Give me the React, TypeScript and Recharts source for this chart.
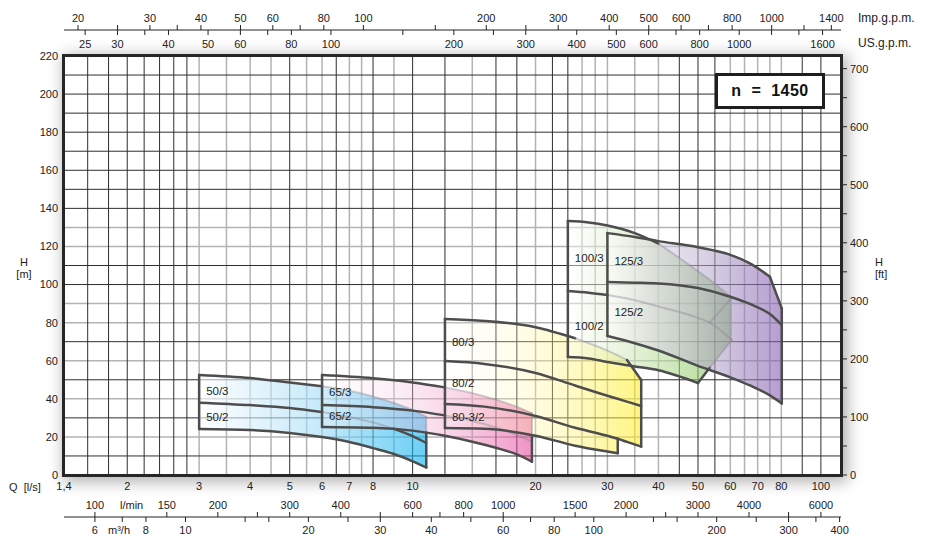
import React from 'react';
import {
  ComposedChart,
  Area,
  Line,
  XAxis,
  YAxis,
  CartesianGrid,
  ReferenceDot,
} from 'recharts';

const FONT = '"Liberation Sans", Arial, Helvetica, sans-serif';
const INK = '#222';
const EDGE = '#4d4d4d';

// flow axis in l/s (log), head axis in m
const Q_MIN = 1.4;
const Q_MAX = 112;
const H_MAX = 220;

// unit conversions from l/s and m
const IMP_GPM = 13.2;
const US_GPM = 15.85;
const L_MIN = 60;
const M3_H = 3.6;
const FT = 3.2808;

// axis ticks
const qTicks = [1.4, 2, 3, 4, 5, 6, 7, 8, 10, 20, 30, 40, 50, 60, 70, 80, 100];
const impTicks = [20, 25, 30, 35, 40, 50, 60, 70, 80, 100, 150, 200, 250, 300, 400, 500, 600, 700, 800, 1000, 1200, 1400];
const impLabels = [20, 30, 40, 50, 60, 80, 100, 200, 300, 400, 500, 600, 800, 1000, 1400];
const usTicks = [25, 30, 35, 40, 50, 60, 70, 80, 100, 150, 200, 250, 300, 400, 500, 600, 700, 800, 1000, 1200, 1400, 1600];
const usLabels = [25, 30, 40, 50, 60, 80, 100, 200, 300, 400, 500, 600, 800, 1000, 1600];
const lminTicks = [100, 150, 200, 250, 300, 400, 500, 600, 700, 800, 1000, 1500, 2000, 2500, 3000, 4000, 5000, 6000];
const lminLabels = [100, 150, 200, 300, 400, 600, 800, 1000, 1500, 2000, 3000, 4000, 6000];
const m3hTicks = [6, 7, 8, 10, 14, 16, 20, 25, 30, 40, 50, 60, 70, 80, 100, 140, 160, 200, 250, 300, 350, 400];
const m3hLabels = [6, 8, 10, 20, 30, 40, 60, 80, 100, 200, 300, 400];
const hTicks = [0, 20, 40, 60, 80, 100, 120, 140, 160, 180, 200, 220];
const ftTicks = [0, 50, 100, 150, 200, 250, 300, 350, 400, 450, 500, 550, 600, 650, 700];

// grid (the original mixes dark and pale lines)
const gridDarkH = [10, 30, 50, 70, 100, 110, 140, 150, 160, 170, 180, 190, 200, 210];
const gridLightH = [20, 40, 60, 80, 90, 120, 130];
const gridDarkV = [1.6, 1.8, 2, 2.2, 2.4, 2.6, 2.8, 5, 6.5, 8, 10, 12, 16, 18, 22, 24, 45, 50, 55, 90, 100];
const gridLightV = [3, 3.5, 4, 4.5, 5.5, 6, 7, 7.5, 9, 14, 20, 26, 28, 30, 35, 40, 60, 65, 70, 75, 80];

// 50 family
const q50 = [3, 4, 5, 6, 7, 8, 9, 10, 10.8];
const h50Top = [52.5, 50.9, 48.6, 46.6, 44.2, 41.2, 37.8, 34.2, 30.5];
const h50Mid = [38.0, 36.7, 35.2, 33.1, 30.5, 27.6, 24.2, 20.4, 16.8];
const h50Bot = [24.1, 23.6, 22.1, 19.9, 17.3, 14.1, 11.0, 7.2, 4.0];
const h50Cover = 22.3; // head where the 65 tile starts covering the 50 right edge

// 65 family
const q65 = [6, 8, 10, 12, 14, 16, 18, 19.6];
const h65Top = [52.5, 50.8, 48.6, 46.0, 43.0, 39.6, 35.8, 32.5];
const h65Mid = [36.7, 35.6, 33.8, 31.3, 28.4, 25.0, 21.0, 17.5];
const h65Bot = [25.2, 24.8, 23.3, 20.6, 17.5, 14.3, 10.8, 7.0];
const h65Cover = 20.5; // head where the 80 tile starts covering the 65 right edge

// 80 family (80-3/2 stops at 31.8 l/s)
const q80 = [12, 15, 20, 25, 30, 31.8, 33.5, 36.3];
const h80Top = [81.9, 80.9, 77.6, 71.8, 65.3, 62.8, 60.4, 49.9];
const h80Mid = [59.8, 58.3, 53.6, 47.0, 41.6, 40.0, 38.5, 36.2];
const h80Low = [37.3, 35.9, 31.0, 24.8, 20.6, 19.0, 17.4, 14.9];
const h80Bot = [24.7, 24.3, 20.6, 15.4, 12.3, 11.4];

// 100 family (lower outline runs up the slanted right edge after 50 l/s)
const q100 = [24, 27, 30, 35, 40, 50, 53.4, 60.5];
const h100Top = [133.3, 132.6, 131.0, 127.0, 121.5, 107.0, 102.5, 93.0];
const h100Mid = [96.6, 95.7, 94.5, 91.8, 88.5, 82.5, 80.0, 70.9];
const h100Low = [61.9, 61.2, 59.3, 57.0, 55.0, 48.3, 56.3, 70.9];

// 125 family
const q125 = [30, 35, 40, 50, 60, 67, 75, 80.2];
const h125Top = [127.0, 125.0, 122.8, 119.6, 115.6, 111.1, 104.1, 87.5];
const h125Mid = [101.3, 101.0, 100.6, 98.2, 93.6, 89.8, 84.5, 78.7];
const h125Bot = [73.0, 69.2, 65.4, 57.3, 51.3, 47.0, 41.8, 37.6];

// pump labels
const labelNames = ['50/3', '50/2', '65/3', '65/2', '80/3', '80/2', '80-3/2', '100/3', '100/2', '125/3', '125/2'];
const labelQ = [3, 3, 6, 6, 12, 12, 12, 24, 24, 30, 30];
const labelH = [44.1, 30.4, 43.6, 31.0, 69.8, 48.3, 30.4, 113.9, 78.2, 112.3, 85.6];

type P = { q: number; h: number };
const pts = (qs: number[], hs: number[]): P[] => qs.map((q, i) => ({ q, h: hs[i] }));
const band = (qs: number[], lo: number[], hi: number[]) => qs.map((q, i) => ({ q, r: [lo[i], hi[i]] }));
const last = (a: number[]) => a[a.length - 1];

const area50 = band(q50, h50Bot, h50Top);
const area65 = band(q65, h65Bot, h65Top);
const area80 = [
  ...band(q80.slice(0, 6), h80Bot, h80Top.slice(0, 6)),
  ...band(q80.slice(5), h80Low.slice(5), h80Top.slice(5)),
];
const area100 = band(q100, h100Low, h100Top);
const area125 = band(q125, h125Bot, h125Top);

// axis ids sort in stacking order: b1 sits on the plot, b2/b3 below; t1 on the plot, t2 above
const fill = (id: string, data: any[]) => (
  <Area
    key={`a-${id}`}
    xAxisId="b1"
    yAxisId="m"
    data={data}
    dataKey="r"
    type="linear"
    stroke="none"
    fill={`url(#g${id})`}
    isAnimationActive={false}
    activeDot={false}
  />
);

// an outline piece; "hidden" pieces lie under a later tile and show only faintly
const edge = (key: string, data: P[], curved = true, hidden = false) => (
  <Line
    key={key}
    xAxisId="b1"
    yAxisId="m"
    data={data}
    dataKey="h"
    type={curved ? 'monotone' : 'linear'}
    stroke={hidden ? '#8a8494' : EDGE}
    strokeOpacity={hidden ? 0.4 : 1}
    strokeWidth={hidden ? 2 : 2.5}
    strokeLinecap="round"
    strokeLinejoin="round"
    dot={false}
    activeDot={false}
    isAnimationActive={false}
  />
);

const part = (key: string, qs: number[], hs: number[], i0: number, i1: number, hidden = false) =>
  edge(key, pts(qs.slice(i0, i1 + 1), hs.slice(i0, i1 + 1)), true, hidden);

const vert = (key: string, q: number, lo: number, hi: number, hidden = false) =>
  edge(key, [{ q, h: lo }, { q, h: hi }], false, hidden);

// invisible series so the unit axes get a scale
const anchor = (axisId: string, ticks: number[]) => (
  <Line
    key={`anchor-${axisId}`}
    xAxisId={axisId}
    yAxisId="m"
    data={[{ q: ticks[0], h: 0 }, { q: ticks[ticks.length - 1], h: 0 }]}
    dataKey="h"
    stroke="none"
    dot={false}
    activeDot={false}
    isAnimationActive={false}
  />
);

const UsTick = (props: any) => {
  const { x, y, payload } = props;
  const show = usLabels.includes(payload.value);
  return (
    <g>
      <line x1={x} x2={x} y1={y - 18} y2={y - 13} stroke={INK} />
      {show && (
        <text x={x} y={y} textAnchor="middle" fontSize={11} fontFamily={FONT} fill={INK}>
          {payload.value}
        </text>
      )}
    </g>
  );
};

const LminTick = (props: any) => {
  const { x, y, payload } = props;
  const show = lminLabels.includes(payload.value);
  return (
    <g>
      <line x1={x} x2={x} y1={y + 13} y2={y + 18} stroke={INK} />
      {show && (
        <text x={x} y={y + 10} textAnchor="middle" fontSize={11} fontFamily={FONT} fill={INK}>
          {payload.value}
        </text>
      )}
    </g>
  );
};

const tickStyle = { fontSize: 11, fill: INK, fontFamily: FONT };

const note = (text: string, left: number, top: number, extra: React.CSSProperties = {}) => (
  <div
    style={{
      position: 'absolute',
      left,
      top,
      fontSize: 11,
      lineHeight: '12px',
      color: INK,
      fontFamily: FONT,
      whiteSpace: 'pre',
      ...extra,
    }}
  >
    {text}
  </div>
);

export default function App() {
  return (
    <div style={{ position: 'absolute', left: 0, top: 0, width: 929, height: 550, background: '#fff', fontFamily: FONT }}>
      <div
        style={{
          position: 'absolute',
          left: 64,
          top: 56,
          width: 777,
          height: 419,
          background: '#fff',
          boxShadow: '3px 3px 14px 4px rgba(0,0,0,0.3)',
        }}
      />
      <ComposedChart width={929} height={550} margin={{ top: 0, right: 28, bottom: 0, left: 14 }}>
        <defs>
          <linearGradient id="g50" x1="0" y1="0" x2="1" y2="0">
            <stop offset="0" stopColor="#ffffff" stopOpacity={1} />
            <stop offset="0.5" stopColor="#a3dcf6" stopOpacity={0.95} />
            <stop offset="1" stopColor="#00adee" stopOpacity={0.97} />
          </linearGradient>
          <linearGradient id="g65" x1="0" y1="0" x2="1" y2="0">
            <stop offset="0" stopColor="#ffffff" stopOpacity={0.35} />
            <stop offset="0.5" stopColor="#f2b2d1" stopOpacity={0.62} />
            <stop offset="1" stopColor="#e43f98" stopOpacity={0.94} />
          </linearGradient>
          <linearGradient id="g80" x1="0" y1="0" x2="1" y2="0">
            <stop offset="0" stopColor="#ffffff" stopOpacity={0.25} />
            <stop offset="0.5" stopColor="#fff493" stopOpacity={0.55} />
            <stop offset="1" stopColor="#ffee22" stopOpacity={0.95} />
          </linearGradient>
          <linearGradient id="g100" x1="0" y1="0" x2="1" y2="0">
            <stop offset="0" stopColor="#ffffff" stopOpacity={0.75} />
            <stop offset="0.4" stopColor="#cce7b6" stopOpacity={0.92} />
            <stop offset="1" stopColor="#76bd48" stopOpacity={1} />
          </linearGradient>
          <linearGradient id="g125" x1="0" y1="0" x2="1" y2="0">
            <stop offset="0" stopColor="#ffffff" stopOpacity={0.9} />
            <stop offset="0.55" stopColor="#b8abcd" stopOpacity={0.9} />
            <stop offset="1" stopColor="#8058ae" stopOpacity={0.97} />
          </linearGradient>
        </defs>

        <CartesianGrid
          xAxisId="b1"
          yAxisId="m"
          horizontalValues={gridLightH}
          verticalValues={gridLightV}
          stroke="#b3b3b3"
          strokeWidth={1.5}
        />
        <CartesianGrid
          xAxisId="b1"
          yAxisId="m"
          horizontalValues={gridDarkH}
          verticalValues={gridDarkV}
          stroke="#2e2e2e"
          strokeWidth={1}
        />

        <XAxis
          xAxisId="b1"
          dataKey="q"
          type="number"
          scale="log"
          orientation="bottom"
          domain={[Q_MIN, Q_MAX]}
          allowDataOverflow
          ticks={qTicks}
          interval={0}
          height={20}
          axisLine={false}
          tickLine={false}
          tickSize={0}
          tickMargin={7}
          tick={tickStyle}
          tickFormatter={(v: number) => (v === 1.4 ? '1,4' : String(v))}
        />
        <XAxis
          xAxisId="b2"
          dataKey="q"
          type="number"
          scale="log"
          orientation="bottom"
          domain={[Q_MIN * L_MIN, Q_MAX * L_MIN]}
          allowDataOverflow
          ticks={lminTicks}
          interval={0}
          height={22}
          axisLine={false}
          tickLine={false}
          tickSize={0}
          tickMargin={4}
          tick={<LminTick />}
        />
        <XAxis
          xAxisId="b3"
          dataKey="q"
          type="number"
          scale="log"
          orientation="bottom"
          domain={[Q_MIN * M3_H, Q_MAX * M3_H]}
          allowDataOverflow
          ticks={m3hTicks}
          interval={0}
          height={33}
          axisLine={{ stroke: INK }}
          tickLine={{ stroke: INK }}
          tickSize={5}
          tickMargin={4}
          tick={tickStyle}
          tickFormatter={(v: number) => (m3hLabels.includes(v) ? String(v) : '')}
        />
        <XAxis
          xAxisId="t1"
          dataKey="q"
          type="number"
          scale="log"
          orientation="top"
          domain={[Q_MIN * US_GPM, Q_MAX * US_GPM]}
          allowDataOverflow
          ticks={usTicks}
          interval={0}
          height={26}
          axisLine={false}
          tickLine={false}
          tickSize={0}
          tickMargin={8}
          tick={<UsTick />}
        />
        <XAxis
          xAxisId="t2"
          dataKey="q"
          type="number"
          scale="log"
          orientation="top"
          domain={[Q_MIN * IMP_GPM, Q_MAX * IMP_GPM]}
          allowDataOverflow
          ticks={impTicks}
          interval={0}
          height={30}
          axisLine={{ stroke: INK }}
          tickLine={{ stroke: INK }}
          tickSize={5}
          tickMargin={3}
          tick={tickStyle}
          tickFormatter={(v: number) => (impLabels.includes(v) ? String(v) : '')}
        />
        <YAxis
          yAxisId="m"
          type="number"
          domain={[0, H_MAX]}
          allowDataOverflow
          ticks={hTicks}
          interval={0}
          width={50}
          axisLine={false}
          tickLine={false}
          tickSize={0}
          tickMargin={6}
          tick={tickStyle}
        />
        <YAxis
          yAxisId="ft"
          orientation="right"
          type="number"
          domain={[0, H_MAX * FT]}
          allowDataOverflow
          ticks={ftTicks}
          interval={0}
          width={60}
          axisLine={false}
          tickLine={{ stroke: INK }}
          tickSize={6}
          tickMargin={3}
          tick={tickStyle}
          tickFormatter={(v: number) => (v % 100 === 0 ? String(v) : '')}
        />

        {anchor('b2', lminTicks)}
        {anchor('b3', m3hTicks)}
        {anchor('t1', usTicks)}
        {anchor('t2', impTicks)}
        <Line
          xAxisId="b1"
          yAxisId="ft"
          data={[{ q: Q_MIN, h: 0 }, { q: Q_MAX, h: 0 }]}
          dataKey="h"
          stroke="none"
          dot={false}
          activeDot={false}
          isAnimationActive={false}
        />

        {fill('50', area50)}
        {fill('65', area65)}
        {fill('80', area80)}
        {fill('100', area100)}
        {fill('125', area125)}

        {/* 50: top and upper middle run under the 65 tile from 6 l/s */}
        {part('50t1', q50, h50Top, 0, 3)}
        {part('50t2', q50, h50Top, 3, 8, true)}
        {part('50m1', q50, h50Mid, 0, 3)}
        {part('50m2', q50, h50Mid, 3, 6, true)}
        {part('50m3', q50, h50Mid, 6, 8)}
        {part('50b', q50, h50Bot, 0, 8)}
        {vert('50l', q50[0], h50Bot[0], h50Top[0])}
        {vert('50r1', last(q50), last(h50Bot), h50Cover)}
        {vert('50r2', last(q50), h50Cover, last(h50Top), true)}

        {/* 65: top and middle run under the 80 tile from 12 l/s */}
        {part('65t1', q65, h65Top, 0, 3)}
        {part('65t2', q65, h65Top, 3, 7, true)}
        {part('65m1', q65, h65Mid, 0, 3)}
        {part('65m2', q65, h65Mid, 3, 7, true)}
        {part('65b', q65, h65Bot, 0, 7)}
        {vert('65l', q65[0], h65Bot[0], h65Top[0])}
        {vert('65r1', last(q65), last(h65Bot), h65Cover)}
        {vert('65r2', last(q65), h65Cover, last(h65Top), true)}

        {/* 80: top runs under the 100 tile between 25 and 33.5 l/s */}
        {part('80t1', q80, h80Top, 0, 3)}
        {part('80t2', q80, h80Top, 3, 6, true)}
        {edge('80t3', pts(q80.slice(6), h80Top.slice(6)), false)}
        {part('80m', q80, h80Mid, 0, 7)}
        {part('80l', q80, h80Low, 0, 7)}
        {part('80b', q80, h80Bot, 0, 5)}
        {vert('80le', q80[0], h80Bot[0], h80Top[0])}
        {vert('80r', last(q80), last(h80Low), last(h80Top))}
        {vert('80r2', q80[5], h80Bot[5], h80Low[5])}

        {/* 100: most of it lies under the 125 tile */}
        {part('100t1', q100, h100Top, 0, 4)}
        {part('100t2', q100, h100Top, 4, 7, true)}
        {part('100m1', q100, h100Mid, 0, 2)}
        {part('100m2', q100, h100Mid, 2, 7, true)}
        {part('100b', q100, h100Low, 0, 5)}
        {edge('100s1', pts(q100.slice(5, 7), h100Low.slice(5, 7)), false)}
        {edge('100s2', pts(q100.slice(6), h100Low.slice(6)), false, true)}
        {edge('100n', [{ q: last(q100), h: last(h100Top) }, { q: q100[6], h: h100Mid[6] }], false, true)}
        {vert('100l', q100[0], h100Low[0], h100Top[0])}

        {/* 125 */}
        {part('125t1', q125, h125Top, 0, 6)}
        {edge('125t2', pts(q125.slice(6), h125Top.slice(6)), false)}
        {part('125m', q125, h125Mid, 0, 7)}
        {part('125b', q125, h125Bot, 0, 7)}
        {vert('125l', q125[0], h125Bot[0], h125Top[0])}
        {vert('125r', last(q125), last(h125Bot), last(h125Top))}

        {labelNames.map((name, i) => (
          <ReferenceDot
            key={name}
            xAxisId="b1"
            yAxisId="m"
            x={labelQ[i]}
            y={labelH[i]}
            r={0}
            fill="none"
            stroke="none"
            ifOverflow="visible"
            label={{ value: name, position: 'right', offset: 7, fontSize: 11.5, fill: '#1e1e1e', fontFamily: FONT }}
          />
        ))}
      </ComposedChart>

      {/* plot frame */}
      <div
        style={{
          position: 'absolute',
          left: 62,
          top: 54,
          width: 781,
          height: 423,
          border: '3px solid #262626',
          boxSizing: 'border-box',
          pointerEvents: 'none',
        }}
      />
      <div
        style={{
          position: 'absolute',
          left: 715,
          top: 73,
          width: 110,
          height: 36,
          border: '3px solid #1e1e1e',
          boxSizing: 'border-box',
          background: '#fff',
          display: 'flex',
          alignItems: 'center',
          justifyContent: 'center',
          fontWeight: 700,
          fontSize: 16,
          letterSpacing: 0.5,
          whiteSpace: 'pre',
          color: '#111',
        }}
      >
        {'n  =  1450'}
      </div>

      {note('Imp.g.p.m.', 858, 12, { fontSize: 12 })}
      {note('US.g.p.m.', 858, 37, { fontSize: 12 })}
      {note('Q  [l/s]', 9, 481)}
      {note('l/min', 120, 499)}
      {note('m³/h', 108, 524)}
      {note('H\n[m]', 14, 256, { textAlign: 'center', width: 20 })}
      {note('H\n[ft]', 875, 256)}
    </div>
  );
}
